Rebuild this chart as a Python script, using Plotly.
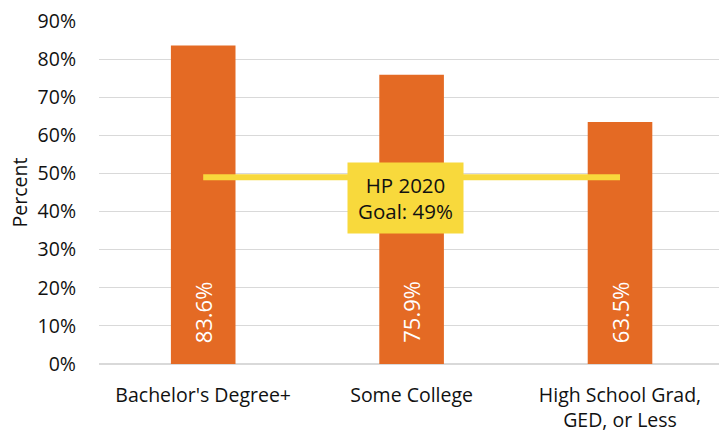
import plotly.graph_objects as go

categories = ["Bachelor's Degree+", "Some College", "High School Grad,<br>GED, or Less"]
values = [83.6, 75.9, 63.5]
goal_value = 49
goal_label = "HP 2020<br>Goal: 49%"
y_ticks = [0, 10, 20, 30, 40, 50, 60, 70, 80, 90]

FONT = "Open Sans"
ORANGE = "#E46A24"
YELLOW = "#F8D93C"
TEXT = "#111111"
FS = 19.5

x_idx = list(range(len(categories)))

fig = go.Figure()
fig.add_trace(go.Bar(
    x=x_idx, y=values, marker=dict(color=ORANGE, line=dict(width=0)),
    width=0.31, hoverinfo="skip",
))
# goal line
fig.add_trace(go.Scatter(
    x=[x_idx[0], x_idx[-1]], y=[goal_value, goal_value], mode="lines",
    line=dict(color=YELLOW, width=6), hoverinfo="skip",
))

annotations = []
for i, v in zip(x_idx, values):
    annotations.append(dict(
        x=i, y=13.6, xref="x", yref="y", text=f"{v:.1f}%", textangle=-90,
        showarrow=False, font=dict(family=FONT, size=22, color="white"),
    ))
annotations.append(dict(
    x=(x_idx[0] + x_idx[-1]) / 2 - 0.03, y=goal_value - 5.5, xref="x", yref="y",
    text=goal_label, showarrow=False, bgcolor=YELLOW, width=111, height=66,
    borderpad=2, font=dict(family=FONT, size=20.5, color=TEXT), align="center",
))

fig.update_layout(
    width=719, height=436,
    margin=dict(l=99, r=0, t=21, b=72),
    paper_bgcolor="white", plot_bgcolor="white",
    showlegend=False,
    font=dict(family=FONT, size=FS, color=TEXT),
    bargap=0.69,
    annotations=annotations,
    xaxis=dict(
        tickmode="array", tickvals=x_idx, ticktext=categories,
        range=[-0.5, 2.475], showgrid=False, zeroline=False,
        showline=False, ticks="", ticklabelstandoff=17,
        tickfont=dict(family=FONT, size=FS, color=TEXT),
    ),
    yaxis=dict(
        range=[0, 90], tickmode="array", tickvals=y_ticks,
        ticktext=[f"{t}%" for t in y_ticks],
        showgrid=True, gridcolor="#D9D9D9", gridwidth=1,
        zeroline=True, zerolinecolor="#D9D9D9", zerolinewidth=1.5,
        showline=False, ticks="", ticklabelstandoff=22,
        tickfont=dict(family=FONT, size=FS, color=TEXT),
        title=dict(text="Percent", font=dict(family=FONT, size=FS, color=TEXT), standoff=4),
    ),
)

fig.write_html("out.html")
